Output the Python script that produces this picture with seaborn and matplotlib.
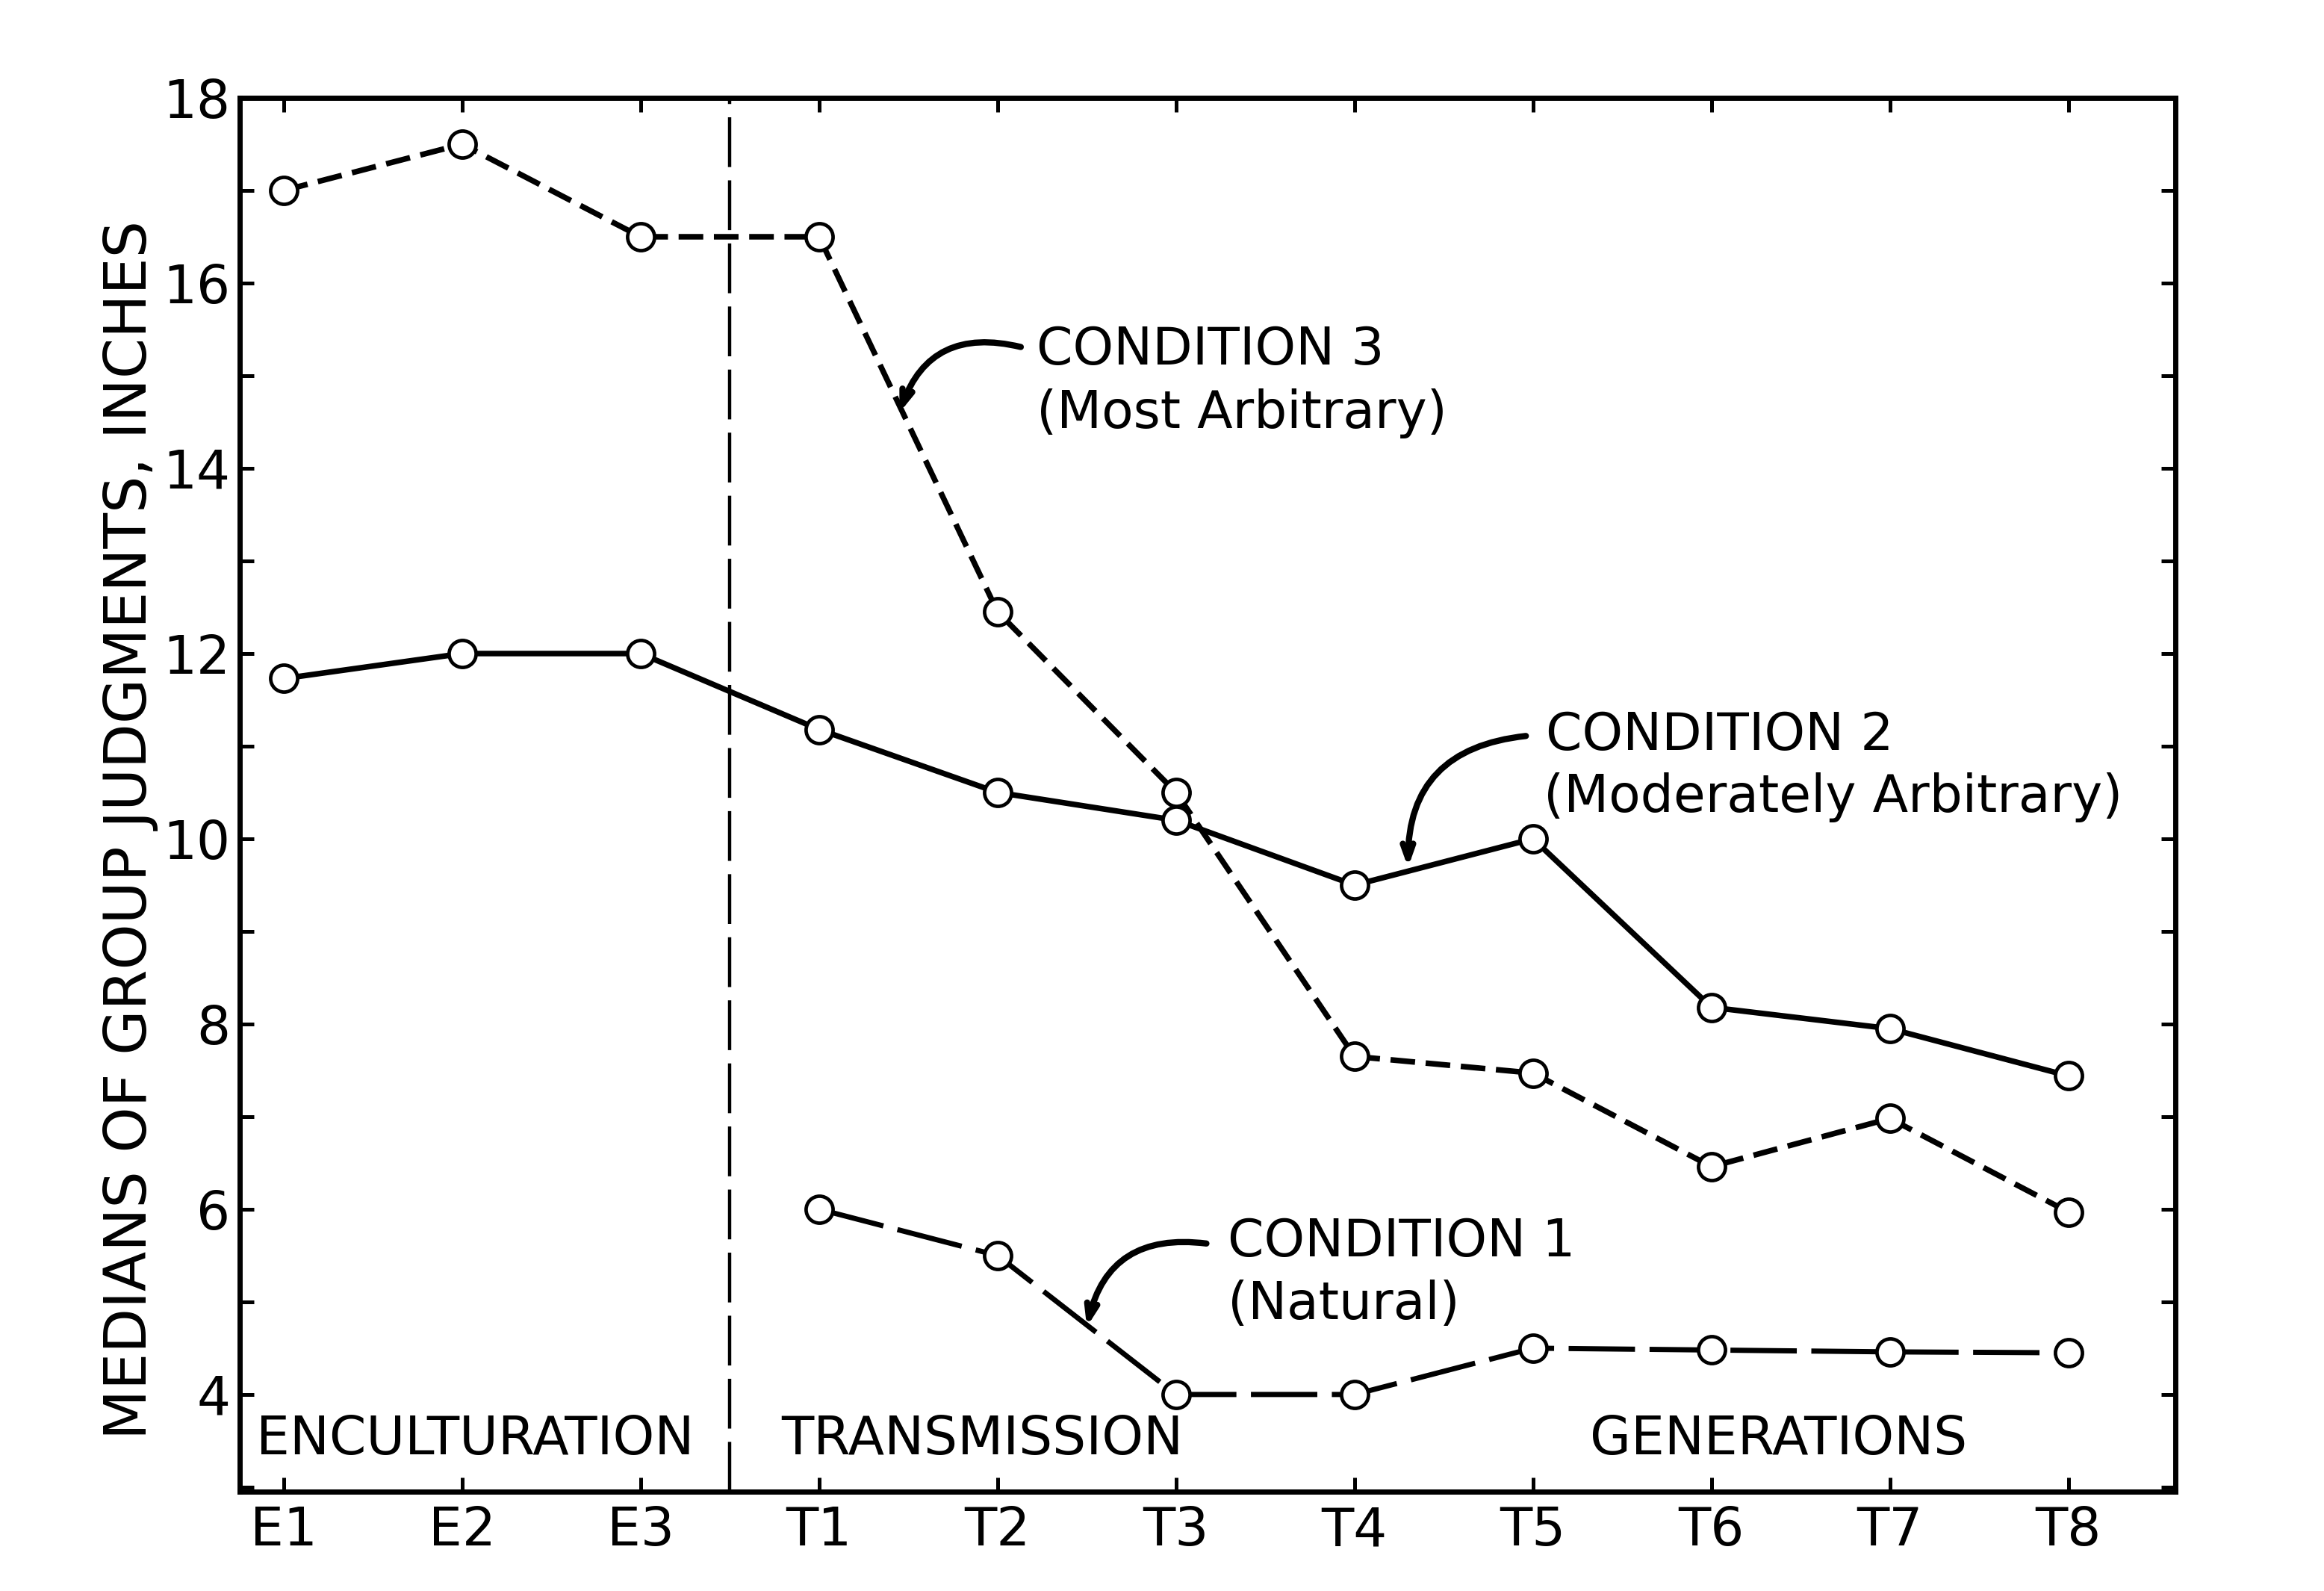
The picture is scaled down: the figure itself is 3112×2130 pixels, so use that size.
import numpy as np
import pandas as pd
import seaborn as sns
import matplotlib.pyplot as plt
from matplotlib.ticker import MultipleLocator, NullLocator

# steps along the x axis
enculturation = ['E1', 'E2', 'E3']
transmission = ['T1', 'T2', 'T3', 'T4', 'T5', 'T6', 'T7', 'T8']
steps = enculturation + transmission

# medians of group judgments (inches)
cond1 = [6.0, 5.5, 4.0, 4.0, 4.5, 4.48, 4.46, 4.45]              # T1..T8 only
cond2 = [11.73, 12.0, 12.0, 11.18, 10.5, 10.2, 9.5, 10.0, 8.18, 7.95, 7.44]
cond3 = [17.0, 17.5, 16.5, 16.5, 12.45, 10.5, 7.65, 7.47, 6.46, 6.98, 5.97]

yticks = [4, 6, 8, 10, 12, 14, 16, 18]

pos = {s: i for i, s in enumerate(steps)}
df = pd.concat([
    pd.DataFrame({'step': transmission, 'value': cond1, 'condition': 'c1'}),
    pd.DataFrame({'step': steps, 'value': cond2, 'condition': 'c2'}),
    pd.DataFrame({'step': steps, 'value': cond3, 'condition': 'c3'}),
], ignore_index=True)
df['pos'] = df['step'].map(pos)

sns.set_style('ticks')
plt.rcParams['font.family'] = ['DejaVu Sans']
plt.rcParams['text.color'] = 'black'
plt.rcParams['axes.labelcolor'] = 'black'
plt.rcParams['xtick.color'] = 'black'
plt.rcParams['ytick.color'] = 'black'

fig = plt.figure(figsize=(15.56, 10.65), dpi=200)
ax = fig.add_axes([0.1031, 0.0624, 0.833, 0.8761])

styles = {
    'c1': dict(lw=2.5, linestyle=(0, (12.8, 2.8))),
    'c2': dict(lw=2.7, linestyle='-'),
    'c3': dict(lw=2.7, linestyle=(0, (4.4, 1.9))),
}
for cond, st in styles.items():
    sub = df[df['condition'] == cond]
    sns.lineplot(data=sub, x='pos', y='value', ax=ax, color='black',
                 marker='o', markersize=13, markerfacecolor='white',
                 markeredgecolor='black', markeredgewidth=1.7,
                 legend=False, zorder=3, **st)

# divider between enculturation and transmission
ax.axvline(len(enculturation) - 0.5, color='black', lw=1.6,
           linestyle=(0, (15, 4)), zorder=2)

ax.set_xlim(-0.247, 10.60)
ax.set_ylim(2.95, 18)
ax.set_xticks(range(len(steps)))
ax.set_xticklabels(steps)
ax.set_yticks(yticks)
ax.yaxis.set_minor_locator(MultipleLocator(1))
ax.xaxis.set_minor_locator(NullLocator())
ax.tick_params(axis='both', which='both', direction='in', top=True, right=True,
               length=7, width=1.8, color='black')
ax.tick_params(axis='y', which='major', labelsize=25.5, pad=4.5)
ax.tick_params(axis='x', which='major', labelsize=25.5, pad=6.5)
for sp in ax.spines.values():
    sp.set_linewidth(2.5)
    sp.set_color('black')

ax.set_xlabel('')
ax.set_ylabel('MEDIANS OF GROUP JUDGMENTS, INCHES', fontsize=28)
ax.yaxis.set_label_coords(-0.042, 0.475)

# phase labels
ax.text(-0.155, 3.51, 'ENCULTURATION', fontsize=25.5, va='center', ha='left')
ax.text(2.79, 3.51, 'TRANSMISSION', fontsize=25.5, va='center', ha='left')
ax.text(7.32, 3.51, 'GENERATIONS', fontsize=25.5, va='center', ha='left')

# condition labels with curved arrows
labels = [
    ('CONDITION 3', '(Most Arbitrary)', (4.22, 15.28), (4.22, 14.59), (4.13, 15.31), (3.45, 14.6)),
    ('CONDITION 2', '(Moderately Arbitrary)', (7.07, 11.12), (7.06, 10.45), (6.96, 11.11), (6.30, 9.69)),
    ('CONDITION 1', '(Natural)', (5.29, 5.65), (5.29, 4.97), (5.17, 5.63), (4.50, 4.73)),
]
for title, sub, p1, p2, start, end in labels:
    ax.text(*p1, title, fontsize=25, va='center', ha='left')
    ax.text(*p2, sub, fontsize=25, va='center', ha='left')
    ax.annotate('', xy=end, xytext=start,
                arrowprops=dict(arrowstyle='->,head_length=0.7,head_width=0.25',
                                connectionstyle='arc3,rad=0.45', lw=3,
                                color='black', shrinkA=0, shrinkB=0))

fig.savefig('out.png', dpi=200)
